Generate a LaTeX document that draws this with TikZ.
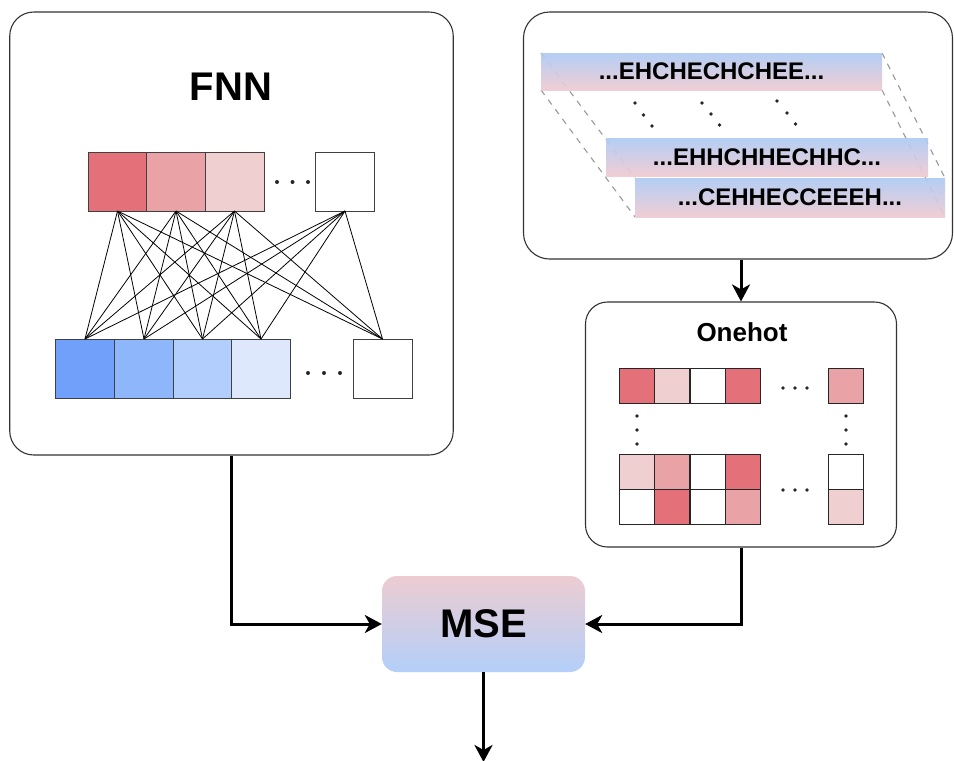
\documentclass[tikz,border=0pt]{standalone}
\usepackage{fontspec}
\setmainfont{Liberation Sans}
\usetikzlibrary{arrows.meta,calc}

\definecolor{redA}{HTML}{E4707A}
\definecolor{redB}{HTML}{E9A3A6}
\definecolor{redC}{HTML}{F0CFD0}
\definecolor{blueA}{HTML}{70A0F9}
\definecolor{blueB}{HTML}{8DB6FB}
\definecolor{blueC}{HTML}{B1CEFD}
\definecolor{blueD}{HTML}{DDE8FD}
\definecolor{stripblue}{HTML}{AECAF4}
\definecolor{strippink}{HTML}{EFCAD1}
\definecolor{msepink}{HTML}{EDCCD2}
\definecolor{mseblue}{HTML}{B3CFF9}
\definecolor{panelline}{HTML}{333333}

\tikzset{
  panel/.style={draw=panelline, line width=1.1pt, fill=white, inner sep=0pt},
  cell/.style={draw=black!75, line width=0.9pt, minimum size=59pt, inner sep=0pt, outer sep=0pt},
  hotcell/.style={draw=black!85, line width=0.9pt, minimum size=35pt, inner sep=0pt, outer sep=0pt},
  link/.style={line width=0.8pt, black},
  flow/.style={line width=3pt, -{Stealth[length=17pt,width=18pt,inset=5pt]}},
  seqstrip/.style={top color=stripblue, bottom color=strippink, fill opacity=0.92, text opacity=1,
    minimum height=37pt, inner sep=0pt, font=\bfseries\fontsize{24}{24}\selectfont},
  guide/.style={black!40, line width=1.1pt, dash pattern=on 6pt off 6pt},
  title/.style={font=\bfseries\fontsize{40}{40}\selectfont},
  subtitle/.style={font=\bfseries\fontsize{26}{26}\selectfont},
  dotmark/.style={fill=black!85}
}

\begin{document}
\begin{tikzpicture}[x=1pt,y=-1pt]
\useasboundingbox (0,0) rectangle (954,761);

% ---------------- panels ----------------
\node[panel, rounded corners=24pt, minimum width=443.5pt, minimum height=443pt] (fnn) at (231.5,233.5) {};
\node[panel, rounded corners=26pt, minimum width=429pt, minimum height=247pt] (seq) at (738,135.5) {};
\node[panel, rounded corners=22pt, minimum width=311pt, minimum height=245pt] (onehot) at (741,424.5) {};

% ---------------- FNN ----------------
\node[title] (fnntitle) at (231,87) {FNN};

\node[cell, fill=redA] (t1) at (117.5,181.5) {};
\node[cell, fill=redB] (t2) at (176,181.5) {};
\node[cell, fill=redC] (t3) at (234.5,181.5) {};
\node[cell, fill=white] (t4) at (345,181.5) {};
\foreach \x in {277,292.5,308} \fill[dotmark] (\x,182) circle (2pt);

\node[cell, fill=blueA] (b1) at (85,368.5) {};
\node[cell, fill=blueB] (b2) at (144,368.5) {};
\node[cell, fill=blueC] (b3) at (202.5,368.5) {};
\node[cell, fill=blueD] (b4) at (261,368.5) {};
\node[cell, fill=white] (b5) at (382.5,368.5) {};
\foreach \x in {308,324,340} \fill[dotmark] (\x,373) circle (2pt);

\foreach \t in {t1,t2,t3,t4}
  \foreach \b in {b1,b2,b3,b4,b5}
    \draw[link] (\t.south) -- (\b.north);

% ---------------- sequences ----------------
\coordinate (s1nw) at (541,53);  \coordinate (s1sw) at (541,90);
\coordinate (s1ne) at (882,53);  \coordinate (s1se) at (882,90);
\coordinate (s3nw) at (635,178); \coordinate (s3sw) at (635,217);
\coordinate (s3ne) at (945,178); \coordinate (s3se) at (945,217);
\draw[guide] (s1nw) -- (s3nw);
\draw[guide] (s1sw) -- (s3sw);
\draw[guide] (s1ne) -- (s3ne);
\draw[guide] (s1se) -- (s3se);

\node[seqstrip, minimum width=341pt] (s1) at (711.5,71.5) {...EHCHECHCHEE...};
\node[seqstrip, minimum width=322pt, minimum height=38pt] (s2) at (767,157) {...EHHCHHECHHC...};
\node[seqstrip, minimum width=310pt, minimum height=39pt] (s3) at (790,197.5) {...CEHHECCEEEH...};

\foreach \x/\y in {635/103,643.5/115,652/126,
                   702/103,711/114,719.5/125,
                   777/101,787/113,795.5/124}
  \fill[dotmark] (\x,\y) circle (1.8pt);

% ---------------- one-hot ----------------
\node[subtitle] (ohtitle) at (742,332) {Onehot};

\node[hotcell, fill=redA]  (h11) at (636.5,385.5) {};
\node[hotcell, fill=redC]  (h12) at (672,385.5) {};
\node[hotcell, fill=white] (h13) at (707.5,385.5) {};
\node[hotcell, fill=redA]  (h14) at (743,385.5) {};
\node[hotcell, fill=redB]  (h15) at (846,385.5) {};

\node[hotcell, fill=redC]  (h21) at (636.5,471.5) {};
\node[hotcell, fill=redB]  (h22) at (672,471.5) {};
\node[hotcell, fill=white] (h23) at (707.5,471.5) {};
\node[hotcell, fill=redA]  (h24) at (743,471.5) {};
\node[hotcell, fill=white] (h25) at (846,471.5) {};

\node[hotcell, fill=white] (h31) at (636.5,506.5) {};
\node[hotcell, fill=redA]  (h32) at (672,506.5) {};
\node[hotcell, fill=white] (h33) at (707.5,506.5) {};
\node[hotcell, fill=redB]  (h34) at (743,506.5) {};
\node[hotcell, fill=redC]  (h35) at (846,506.5) {};

\foreach \x in {783,795,807} {
  \fill[dotmark] (\x,388) circle (1.8pt);
  \fill[dotmark] (\x,490) circle (1.8pt);
}
\foreach \y in {416,430,444} {
  \fill[dotmark] (637,\y) circle (1.8pt);
  \fill[dotmark] (846,\y) circle (1.8pt);
}

% ---------------- loss ----------------
\node[rounded corners=15pt, top color=msepink, bottom color=mseblue,
      minimum width=203pt, minimum height=96pt, title] (mse) at (483.5,624) {MSE};

\coordinate (out) at (483.5,762);

\draw[flow] (seq.south -| onehot.north) -- (onehot.north);
\draw[flow] (fnn.south) |- (mse.west);
\draw[flow] (onehot.south) |- (mse.east);
\draw[flow] (mse.south) -- (out);
\end{tikzpicture}
\end{document}
